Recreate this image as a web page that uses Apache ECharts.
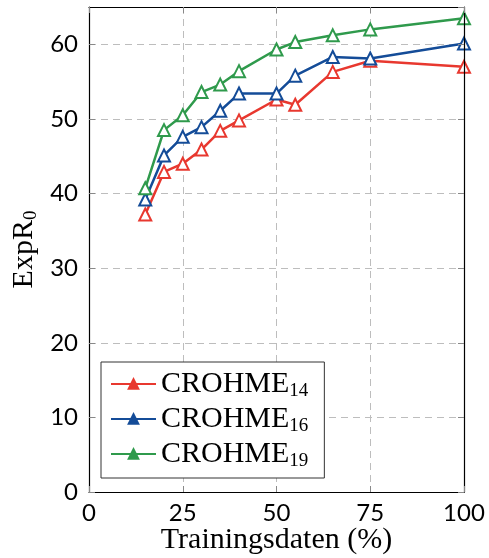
<!DOCTYPE html>
<html lang="de">
<head>
    <meta charset="utf-8">
    <title>ExpR0 vs Trainingsdaten</title>
    <script src="https://cdn.jsdelivr.net/npm/echarts@6/dist/echarts.min.js"></script>
    <style>
        html, body { margin: 0; padding: 0; background: #fff; }
        #chart { width: 489px; height: 558px; }
    </style>
</head>
<body>
<div id="chart"></div>
<script>
    // Anteil der Trainingsdaten (%)
    var trainPercent = [15, 20, 25, 30, 35, 40, 50, 55, 65, 75, 100];
    // ExpR0 je Datensatz
    var crohme14 = [37.2, 42.9, 44.0, 45.9, 48.4, 49.8, 52.6, 51.9, 56.3, 57.8, 57.0];
    var crohme16 = [39.2, 45.1, 47.6, 48.9, 51.1, 53.4, 53.4, 55.8, 58.3, 58.1, 60.1];
    var crohme19 = [40.7, 48.5, 50.5, 53.6, 54.6, 56.4, 59.3, 60.3, 61.2, 62.0, 63.5];
    var seriesNames = ['CROHME_14', 'CROHME_16', 'CROHME_19'];
    var seriesColors = ['#e8382f', '#144c98', '#2f9a4c'];
    var xTicks = [0, 25, 50, 75, 100];
    var yTicks = [0, 10, 20, 30, 40, 50, 60];

    var serif = '"Liberation Serif", "DejaVu Serif", serif';
    var sans = 'Lato, "DejaVu Sans", sans-serif';

    function pairs(ys) {
        return trainPercent.map(function (x, i) { return [x, ys[i]]; });
    }
    function sub(name) {
        var p = name.split('_');
        return '{a|' + p[0] + '}{s|' + p[1] + '}';
    }

    var richText = {
        a: {fontFamily: serif, fontSize: 30, lineHeight: 34, color: '#000'},
        s: {fontFamily: serif, fontSize: 19, lineHeight: 10, verticalAlign: 'bottom', color: '#000'}
    };

    var xBase = {type: 'value', min: 0, max: 100, interval: 25};
    var yBase = {type: 'value', min: 0, max: 65, interval: 10};
    var tickStyle = {show: true, inside: true, length: 6, lineStyle: {color: '#888', width: 1}};
    var frameLine = {show: true, onZero: false, lineStyle: {color: '#000', width: 1.2}};
    var gridDash = {show: true, lineStyle: {color: '#bdbdbd', width: 1, type: [7, 5]}};

    var chart = echarts.init(document.getElementById('chart'));
    var option = {
        animation: false,
        grid: {left: 89, right: 25, top: 7, bottom: 66, containLabel: false, outerBoundsMode: 'none'},
        legend: {
            orient: 'vertical',
            left: 101,
            top: 362,
            padding: [7, 16, 7, 9],
            itemGap: 3,
            itemWidth: 45,
            itemHeight: 12,
            borderColor: '#333',
            borderWidth: 1,
            backgroundColor: '#fff',
            formatter: sub,
            textStyle: {rich: richText},
            data: seriesNames.map(function (n, i) {
                return {name: n, itemStyle: {color: seriesColors[i], borderColor: seriesColors[i]}};
            })
        },
        xAxis: [
            Object.assign({}, xBase, {
                position: 'bottom', z: 5,
                axisLine: frameLine,
                axisTick: tickStyle,
                splitLine: {show: false},
                axisLabel: {
                    margin: 9, color: '#000', fontFamily: sans, fontSize: 24,
                    formatter: function (v) { return xTicks.indexOf(v) >= 0 ? String(v) : ''; }
                },
                name: 'Trainingsdaten (%)',
                nameLocation: 'middle',
                nameGap: 33,
                nameMoveOverlap: false,
                nameTextStyle: {fontFamily: serif, fontSize: 30, lineHeight: 30, color: '#000'}
            }),
            Object.assign({}, xBase, {
                position: 'top', z: 5,
                axisLine: frameLine,
                axisTick: tickStyle,
                axisLabel: {show: false},
                splitLine: {show: false}
            }),
            Object.assign({}, xBase, {
                position: 'bottom', z: 0,
                axisLine: {show: false}, axisTick: {show: false}, axisLabel: {show: false},
                splitLine: gridDash
            })
        ],
        yAxis: [
            Object.assign({}, yBase, {
                position: 'left', z: 5,
                axisLine: frameLine,
                axisTick: tickStyle,
                splitLine: {show: false},
                axisLabel: {
                    margin: 11, color: '#000', fontFamily: sans, fontSize: 24,
                    showMaxLabel: false,
                    formatter: function (v) { return yTicks.indexOf(v) >= 0 ? String(v) : ''; }
                },
                name: '{a|ExpR}{s|0}',
                nameLocation: 'middle',
                nameRotate: 90,
                nameGap: 48,
                nameMoveOverlap: false,
                nameTextStyle: {rich: richText}
            }),
            Object.assign({}, yBase, {
                position: 'right', z: 5,
                axisLine: frameLine,
                axisTick: tickStyle,
                axisLabel: {show: false},
                splitLine: {show: false}
            }),
            Object.assign({}, yBase, {
                position: 'left', z: 0,
                axisLine: {show: false}, axisTick: {show: false}, axisLabel: {show: false},
                splitLine: gridDash
            })
        ],
        series: [crohme14, crohme16, crohme19].map(function (ys, i) {
            return {
                name: seriesNames[i],
                type: 'line',
                xAxisIndex: 0,
                yAxisIndex: 0,
                z: 3,
                data: pairs(ys),
                symbol: 'triangle',
                symbolSize: 12,
                lineStyle: {color: seriesColors[i], width: 2.5},
                itemStyle: {color: '#fff', borderColor: seriesColors[i], borderWidth: 2}
            };
        })
    };
    chart.setOption(option);
</script>
</body>
</html>
